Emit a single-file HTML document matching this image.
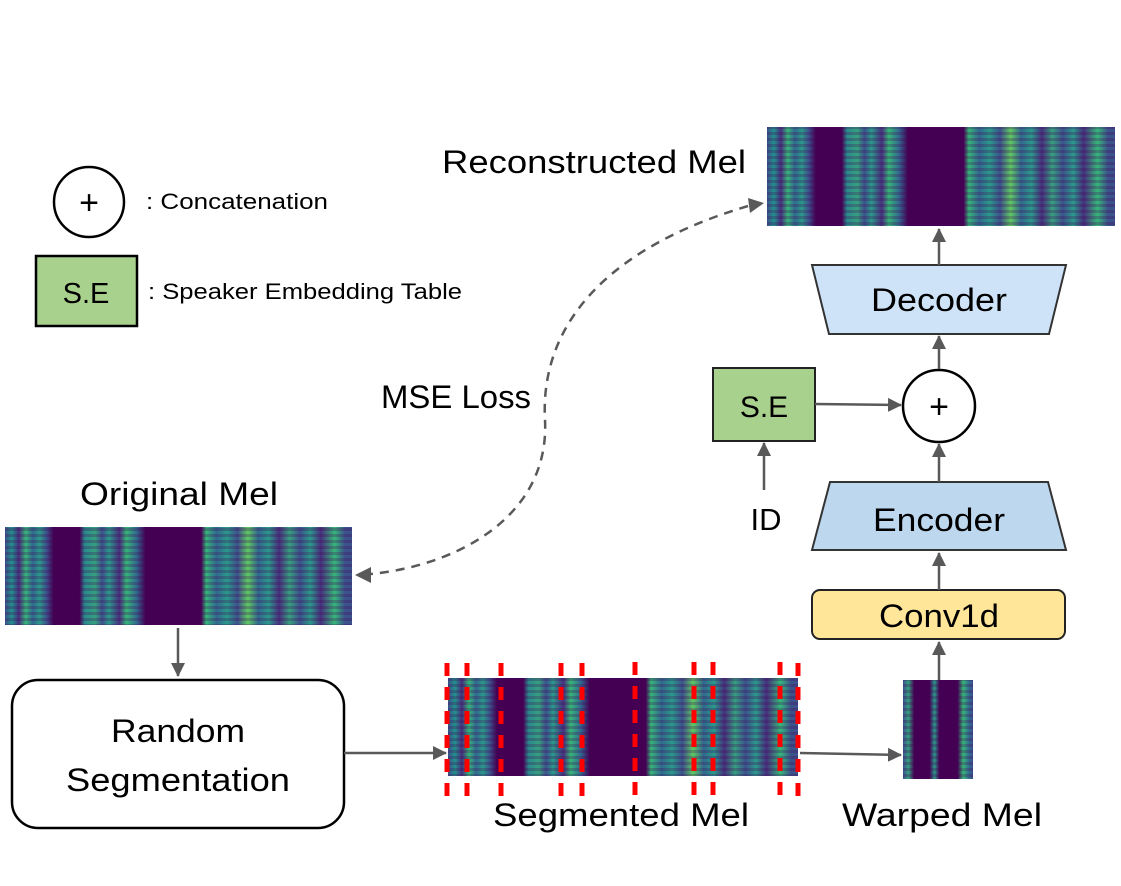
<!DOCTYPE html>
<html><head><meta charset="utf-8"><style>
html,body{margin:0;padding:0;background:#fff;}
svg{display:block;}
text{font-family:"Liberation Sans",sans-serif;fill:#000;}
</style></head><body>
<svg width="1121" height="886" viewBox="0 0 1121 886" xmlns="http://www.w3.org/2000/svg">
<defs>
<linearGradient id="spec" x1="0" y1="0" x2="1" y2="0">
<stop offset="0" stop-color="#3b528b"/>
<stop offset="0.02" stop-color="#21918c"/>
<stop offset="0.04" stop-color="#46307e"/>
<stop offset="0.06" stop-color="#35b779"/>
<stop offset="0.08" stop-color="#31688e"/>
<stop offset="0.10" stop-color="#2a9a8a"/>
<stop offset="0.12" stop-color="#3b528b"/>
<stop offset="0.14" stop-color="#440154"/>
<stop offset="0.215" stop-color="#440154"/>
<stop offset="0.23" stop-color="#2a8a8c"/>
<stop offset="0.26" stop-color="#35a07f"/>
<stop offset="0.28" stop-color="#3b528b"/>
<stop offset="0.30" stop-color="#2a9a8a"/>
<stop offset="0.33" stop-color="#46307e"/>
<stop offset="0.35" stop-color="#35b779"/>
<stop offset="0.38" stop-color="#31688e"/>
<stop offset="0.405" stop-color="#440154"/>
<stop offset="0.565" stop-color="#440154"/>
<stop offset="0.58" stop-color="#35b779"/>
<stop offset="0.61" stop-color="#31688e"/>
<stop offset="0.64" stop-color="#2a9a8a"/>
<stop offset="0.67" stop-color="#3b528b"/>
<stop offset="0.70" stop-color="#5ec962"/>
<stop offset="0.73" stop-color="#31688e"/>
<stop offset="0.76" stop-color="#2a9a8a"/>
<stop offset="0.79" stop-color="#46307e"/>
<stop offset="0.82" stop-color="#35a07f"/>
<stop offset="0.85" stop-color="#3b528b"/>
<stop offset="0.88" stop-color="#2a9a8a"/>
<stop offset="0.91" stop-color="#46307e"/>
<stop offset="0.95" stop-color="#35b779"/>
<stop offset="0.98" stop-color="#3b528b"/>
<stop offset="1" stop-color="#3b528b"/>
</linearGradient>
<linearGradient id="warp" x1="0" y1="0" x2="1" y2="0">
<stop offset="0" stop-color="#3b528b"/>
<stop offset="0.08" stop-color="#35a07f"/>
<stop offset="0.16" stop-color="#440154"/>
<stop offset="0.38" stop-color="#440154"/>
<stop offset="0.45" stop-color="#2a9a8a"/>
<stop offset="0.52" stop-color="#440154"/>
<stop offset="0.78" stop-color="#440154"/>
<stop offset="0.86" stop-color="#35b779"/>
<stop offset="0.95" stop-color="#31688e"/>
<stop offset="1" stop-color="#3b528b"/>
</linearGradient>
<pattern id="rows" width="6" height="6" patternUnits="userSpaceOnUse">
<rect width="6" height="3" fill="#440154" opacity="0.25"/>
</pattern>
<marker id="ah" markerWidth="14" markerHeight="14" refX="13" refY="7" orient="auto" markerUnits="userSpaceOnUse">
<path d="M0,0 L14,7 L0,14 z" fill="#595959"/>
</marker>
</defs>

<!-- legend -->
<circle cx="89" cy="202" r="35" fill="#fff" stroke="#000" stroke-width="2.5"/>
<text x="89" y="214" font-size="34" text-anchor="middle">+</text>
<text x="146" y="209" font-size="22" textLength="182" lengthAdjust="spacingAndGlyphs">: Concatenation</text>
<rect x="36" y="256" width="101" height="70" fill="#a9d18e" stroke="#000" stroke-width="2.5"/>
<text x="86" y="303" font-size="29" text-anchor="middle">S.E</text>
<text x="148" y="299" font-size="22" textLength="314" lengthAdjust="spacingAndGlyphs">: Speaker Embedding Table</text>

<!-- Reconstructed -->
<text x="442" y="173" font-size="32" textLength="304" lengthAdjust="spacingAndGlyphs">Reconstructed Mel</text>
<rect x="767" y="127" width="348" height="99" fill="url(#spec)"/>
<rect x="767" y="127" width="348" height="99" fill="url(#rows)"/>

<!-- Decoder -->
<polygon points="812,265 1066,265 1049,334 829,334" fill="#cfe3f8" stroke="#333" stroke-width="2"/>
<text x="939" y="311" font-size="32" text-anchor="middle" textLength="136" lengthAdjust="spacingAndGlyphs">Decoder</text>
<line x1="939" y1="265" x2="939" y2="229" stroke="#595959" stroke-width="2.5" marker-end="url(#ah)"/>

<!-- concat -->
<circle cx="939" cy="406" r="36" fill="#fff" stroke="#000" stroke-width="2.5"/>
<text x="939" y="418" font-size="34" text-anchor="middle">+</text>
<line x1="939" y1="369" x2="939" y2="336" stroke="#595959" stroke-width="2.5" marker-end="url(#ah)"/>

<!-- S.E -->
<rect x="713" y="368" width="102" height="73" fill="#a9d18e" stroke="#222" stroke-width="2"/>
<text x="764" y="417" font-size="30" text-anchor="middle">S.E</text>
<line x1="815" y1="404" x2="901" y2="405" stroke="#595959" stroke-width="2.5" marker-end="url(#ah)"/>
<line x1="764" y1="490" x2="764" y2="443" stroke="#595959" stroke-width="2.5" marker-end="url(#ah)"/>
<text x="766" y="530" font-size="31" text-anchor="middle">ID</text>

<!-- Encoder -->
<polygon points="830,482 1048,482 1066,550 812,550" fill="#bdd7ee" stroke="#333" stroke-width="2"/>
<text x="939" y="531" font-size="32" text-anchor="middle" textLength="132" lengthAdjust="spacingAndGlyphs">Encoder</text>
<line x1="939" y1="482" x2="939" y2="444" stroke="#595959" stroke-width="2.5" marker-end="url(#ah)"/>

<!-- Conv1d -->
<rect x="812" y="590" width="253" height="49" rx="8" fill="#ffe699" stroke="#222" stroke-width="2"/>
<text x="939" y="627" font-size="32" text-anchor="middle" textLength="120" lengthAdjust="spacingAndGlyphs">Conv1d</text>
<line x1="939" y1="590" x2="939" y2="553" stroke="#595959" stroke-width="2.5" marker-end="url(#ah)"/>
<line x1="939" y1="680" x2="939" y2="642" stroke="#595959" stroke-width="2.5" marker-end="url(#ah)"/>

<!-- MSE -->
<text x="456" y="408" font-size="32" text-anchor="middle" textLength="150" lengthAdjust="spacingAndGlyphs">MSE Loss</text>
<path d="M748,206 C600,250 540,330 545,420 C550,520 450,570 358,575" fill="none" stroke="#595959" stroke-width="2.5" stroke-dasharray="9,7"/>
<path d="M764,203 L748,198 L750,213 z" fill="#595959"/>
<path d="M355,575 L371,567 L371,583 z" fill="#595959"/>

<!-- Original -->
<text x="179" y="505" font-size="32" text-anchor="middle" textLength="198" lengthAdjust="spacingAndGlyphs">Original Mel</text>
<rect x="5" y="527" width="347" height="98" fill="url(#spec)"/>
<rect x="5" y="527" width="347" height="98" fill="url(#rows)"/>
<line x1="178" y1="628" x2="178" y2="676" stroke="#595959" stroke-width="2.5" marker-end="url(#ah)"/>

<!-- Random segmentation -->
<rect x="12" y="680" width="332" height="148" rx="26" fill="#fff" stroke="#000" stroke-width="2.5"/>
<text x="178" y="742" font-size="32" text-anchor="middle" textLength="134" lengthAdjust="spacingAndGlyphs">Random</text>
<text x="178" y="791" font-size="32" text-anchor="middle" textLength="224" lengthAdjust="spacingAndGlyphs">Segmentation</text>
<line x1="344" y1="753" x2="446" y2="753" stroke="#595959" stroke-width="2.5" marker-end="url(#ah)"/>

<!-- Segmented -->
<rect x="448" y="678" width="350" height="98" fill="url(#spec)"/>
<rect x="448" y="678" width="350" height="98" fill="url(#rows)"/>
<g stroke="#ff0000" stroke-width="5" stroke-dasharray="13,11">
<line x1="447" y1="663" x2="447" y2="796"/>
<line x1="467" y1="663" x2="467" y2="796"/>
<line x1="501" y1="663" x2="501" y2="796"/>
<line x1="561" y1="663" x2="561" y2="796"/>
<line x1="582" y1="663" x2="582" y2="796"/>
<line x1="635" y1="662" x2="635" y2="796"/>
<line x1="694" y1="662" x2="694" y2="796"/>
<line x1="713" y1="662" x2="713" y2="796"/>
<line x1="780" y1="662" x2="780" y2="796"/>
<line x1="798" y1="663" x2="798" y2="796"/>
</g>
<text x="621" y="826" font-size="32" text-anchor="middle" textLength="256" lengthAdjust="spacingAndGlyphs">Segmented Mel</text>
<line x1="800" y1="753" x2="901" y2="755" stroke="#595959" stroke-width="2.5" marker-end="url(#ah)"/>

<!-- Warped -->
<rect x="903" y="680" width="70" height="99" fill="url(#warp)"/>
<rect x="903" y="680" width="70" height="99" fill="url(#rows)"/>
<text x="942" y="826" font-size="32" text-anchor="middle" textLength="200" lengthAdjust="spacingAndGlyphs">Warped Mel</text>
</svg>
</body></html>
